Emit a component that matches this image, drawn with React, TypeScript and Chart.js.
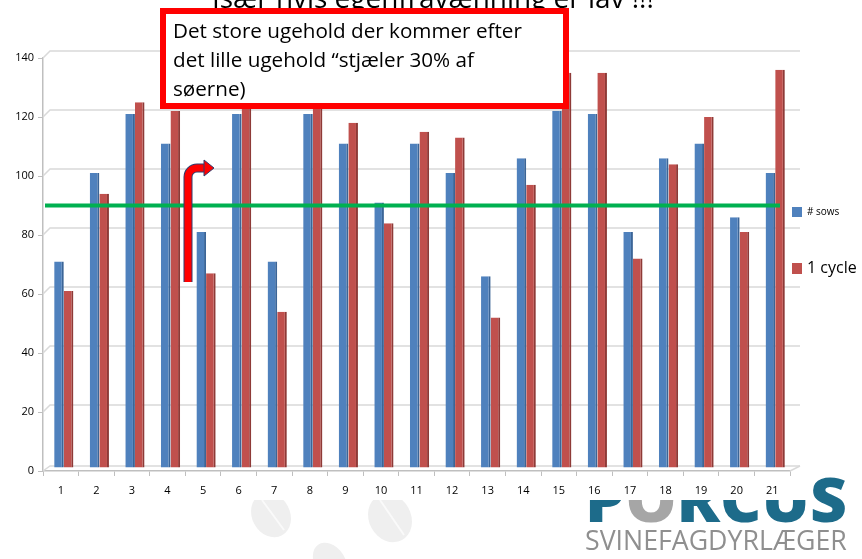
import React, { useEffect, useRef } from 'react';
import { Chart, registerables } from 'chart.js';

Chart.register(...registerables);

const categories = ['1', '2', '3', '4', '5', '6', '7', '8', '9', '10', '11', '12', '13', '14', '15', '16', '17', '18', '19', '20', '21'];
const sows = [70, 100, 120, 110, 80, 120, 70, 120, 110, 90, 110, 100, 65, 105, 121, 120, 80, 105, 110, 85, 100];
const oneCycle = [60, 93, 124, 121, 66, 122, 53, 125, 117, 83, 114, 112, 51, 96, 134, 134, 71, 103, 119, 80, 135];
const seriesNames = ['# sows', '1 cycle'];
const targetLevel = 90;
const yMin = 0;
const yMax = 140;
const yStep = 20;
const titleText = 'Især hvis egenfravænning er lav !!!';
const noteLines = ['Det store ugehold der kommer efter', 'det lille ugehold \u201Cstjæler 30% af', 'søerne)'];
const logoWord = 'PORCUS';
const logoSub = 'SVINEFAGDYRLÆGER';

const BLUE = '#4f81bd';
const BLUE_SIDE = '#3b6597';
const RED = '#c0504d';
const RED_SIDE = '#8e3a37';
const GRID = '#d9d9d9';
const AXIS = '#bfbfbf';
const FONT = '"Open Sans", "Liberation Sans", sans-serif';

function fitFont(ctx: CanvasRenderingContext2D, text: string, weight: string, family: string, targetWidth: number): number {
  ctx.font = `${weight} 100px ${family}`;
  const w = ctx.measureText(text).width;
  return (100 * targetWidth) / w;
}

const backgroundPlugin = {
  id: 'slideBackground',
  beforeDraw(chart: any) {
    const ctx: CanvasRenderingContext2D = chart.ctx;
    ctx.save();
    ctx.fillStyle = '#ffffff';
    ctx.fillRect(0, 0, chart.width, chart.height);
    // faint watermark hooves
    ctx.fillStyle = '#efefef';
    ctx.beginPath();
    ctx.ellipse(271, 515, 19, 23, -0.5, 0, Math.PI * 2);
    ctx.fill();
    ctx.beginPath();
    ctx.ellipse(390, 518, 21, 25, -0.5, 0, Math.PI * 2);
    ctx.fill();
    ctx.beginPath();
    ctx.ellipse(330, 562, 15, 21, -0.6, 0, Math.PI * 2);
    ctx.fill();
    ctx.strokeStyle = '#fafafa';
    ctx.lineWidth = 2;
    ctx.beginPath();
    ctx.moveTo(262, 500); ctx.lineTo(284, 530);
    ctx.moveTo(380, 500); ctx.lineTo(404, 535);
    ctx.stroke();

    // logo
    const word = logoWord;
    const wordFs = 62;
    ctx.font = `800 ${wordFs}px ${FONT}`;
    const fullW = ctx.measureText(word).width;
    const sx = 262 / fullW;
    ctx.save();
    ctx.translate(585, 522);
    ctx.scale(sx, 1);
    let x = 0;
    ctx.textBaseline = 'alphabetic';
    ctx.textAlign = 'left';
    for (let i = 0; i < word.length; i++) {
      const ch = word[i];
      ctx.fillStyle = i === 1 ? '#a6a6a6' : '#1d6b8a';
      ctx.fillText(ch, x, 0);
      x += ctx.measureText(ch).width;
    }
    ctx.restore();

    const subFs = fitFont(ctx, logoSub, '400', FONT, 262);
    ctx.font = `400 ${subFs}px ${FONT}`;
    ctx.fillStyle = '#8f8f8f';
    ctx.fillText(logoSub, 585, 550);

    // white chart background covering top of logo
    ctx.fillStyle = '#ffffff';
    ctx.fillRect(0, 0, 808, 500);
    ctx.restore();
  },
};

const gridPlugin = {
  id: 'depthGrid',
  beforeDatasetsDraw(chart: any) {
    const ctx: CanvasRenderingContext2D = chart.ctx;
    const ys = chart.scales.y;
    const area = chart.chartArea;
    ctx.save();
    ctx.strokeStyle = GRID;
    ctx.lineWidth = 1.5;
    for (let v = yMin; v <= yMax; v += yStep) {
      const y = ys.getPixelForValue(v);
      const d = v === yMin ? 5 : 7;
      ctx.beginPath();
      ctx.moveTo(area.left, y);
      ctx.lineTo(area.left + 7, y - d);
      ctx.lineTo(area.right + 10, y - d);
      ctx.stroke();
    }
    const y0 = ys.getPixelForValue(yMin);
    ctx.beginPath();
    ctx.moveTo(area.right, y0);
    ctx.lineTo(area.right + 10, y0 - 5);
    ctx.stroke();
    ctx.restore();
    ctx.save();
    ctx.translate(3, -3);
  },
  afterDatasetsDraw(chart: any) {
    chart.ctx.restore();
  },
};

const overlayPlugin = {
  id: 'overlay',
  afterDraw(chart: any) {
    const ctx: CanvasRenderingContext2D = chart.ctx;
    const ys = chart.scales.y;
    const area = chart.chartArea;
    ctx.save();

    // target line
    const ty = ys.getPixelForValue(targetLevel);
    ctx.strokeStyle = '#00b050';
    ctx.lineWidth = 4;
    ctx.beginPath();
    ctx.moveTo(area.left + 2, ty);
    ctx.lineTo(area.right - 10, ty);
    ctx.stroke();

    // bent arrow
    ctx.lineCap = 'butt';
    ctx.lineJoin = 'round';
    const path = () => {
      ctx.beginPath();
      ctx.moveTo(188, 282);
      ctx.lineTo(188, 178);
      ctx.arcTo(188, 168, 198, 168, 9);
      ctx.lineTo(205, 168);
    };
    ctx.strokeStyle = '#2f3f6f';
    ctx.lineWidth = 9;
    path();
    ctx.stroke();
    ctx.strokeStyle = '#ff0000';
    ctx.lineWidth = 7;
    path();
    ctx.stroke();
    ctx.beginPath();
    ctx.moveTo(204, 160);
    ctx.lineTo(214, 168);
    ctx.lineTo(204, 176);
    ctx.closePath();
    ctx.fillStyle = '#ff0000';
    ctx.fill();
    ctx.strokeStyle = '#2f3f6f';
    ctx.lineWidth = 1;
    ctx.stroke();

    // clipped slide title
    const tfs = fitFont(ctx, titleText, '400', FONT, 442);
    ctx.font = `400 ${tfs}px ${FONT}`;
    ctx.fillStyle = '#000000';
    ctx.textAlign = 'left';
    ctx.textBaseline = 'alphabetic';
    ctx.fillText(titleText, 212, 8);

    // note box
    ctx.fillStyle = '#ffffff';
    ctx.fillRect(160, 8, 409, 101);
    ctx.strokeStyle = '#ff0000';
    ctx.lineWidth = 6;
    ctx.lineJoin = 'miter';
    ctx.strokeRect(163, 11, 403, 95);
    const nfs = fitFont(ctx, noteLines[0], '400', FONT, 349);
    ctx.font = `400 ${nfs}px ${FONT}`;
    ctx.fillStyle = '#000000';
    noteLines.forEach((line, i) => {
      ctx.fillText(line, 173, 38 + i * 29);
    });

    // legend
    const boxes = [
      { y: 207, size: 10, fs: 10, color: BLUE },
      { y: 263, size: 11, fs: 16, color: RED },
    ];
    chart.data.datasets.forEach((ds: any, i: number) => {
      const b = boxes[i];
      ctx.fillStyle = ds.backgroundColor;
      ctx.fillRect(792, b.y, 10, b.size);
      ctx.fillStyle = '#000000';
      ctx.font = `400 ${b.fs}px ${FONT}`;
      ctx.textBaseline = 'middle';
      ctx.fillText(ds.label, 807, b.y + b.size / 2);
    });
    ctx.restore();
  },
};

export default function App() {
  const canvasRef = useRef<HTMLCanvasElement | null>(null);

  useEffect(() => {
    if (!canvasRef.current) return;
    const chart = new Chart(canvasRef.current, {
      type: 'bar',
      data: {
        labels: categories,
        datasets: [
          {
            label: seriesNames[0],
            data: sows,
            backgroundColor: BLUE,
            borderColor: BLUE_SIDE,
            borderWidth: { top: 0, left: 0, bottom: 0, right: 2 },
            borderSkipped: false,
          },
          {
            label: seriesNames[1],
            data: oneCycle,
            backgroundColor: RED,
            borderColor: RED_SIDE,
            borderWidth: { top: 0, left: 0, bottom: 0, right: 2 },
            borderSkipped: false,
          },
        ],
      },
      options: {
        animation: false,
        responsive: false,
        maintainAspectRatio: false,
        devicePixelRatio: 1,
        layout: { padding: { left: 12, right: 72, top: 58, bottom: 58 } },
        datasets: { bar: { categoryPercentage: 0.54, barPercentage: 1.0 } },
        plugins: {
          legend: { display: false },
          title: { display: false },
          tooltip: { enabled: false },
        },
        scales: {
          x: {
            afterFit: (s: any) => { s.height = 30; },
            grid: { display: true, drawOnChartArea: false, drawTicks: true, tickLength: 5, color: AXIS, offset: true },
            border: { display: true, color: AXIS, width: 1.5 },
            ticks: { color: '#000000', font: { size: 11, family: FONT }, padding: 8 },
          },
          y: {
            min: yMin,
            max: yMax,
            afterFit: (s: any) => { s.width = 31; },
            grid: { display: true, drawOnChartArea: false, drawTicks: true, tickLength: 5, color: AXIS },
            border: { display: true, color: AXIS, width: 1.5 },
            ticks: { stepSize: yStep, color: '#000000', font: { size: 11, family: FONT }, padding: 4 },
          },
        },
      },
      plugins: [backgroundPlugin, gridPlugin, overlayPlugin],
    });
    return () => chart.destroy();
  }, []);

  return (
    <div style={{ position: 'fixed', left: 0, top: 0, width: 862, height: 559, background: '#ffffff' }}>
      <canvas ref={canvasRef} width={862} height={559} style={{ display: 'block', width: 862, height: 559 }} />
    </div>
  );
}
